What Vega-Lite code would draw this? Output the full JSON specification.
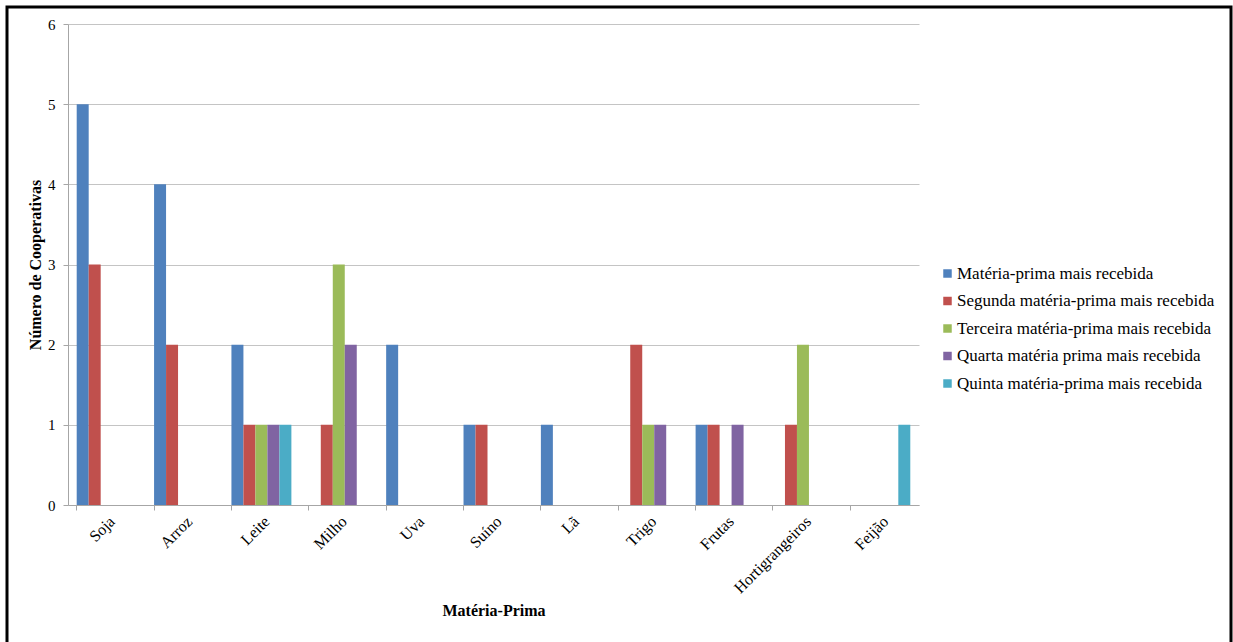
{
  "$schema": "https://vega.github.io/schema/vega-lite/v6.json",
  "width": 1224,
  "height": 640,
  "autosize": {"type": "none"},
  "padding": {"left": 7, "top": 7, "right": 2, "bottom": 0},
  "background": "white",
  "config": {
    "view": {"stroke": "#000000", "strokeWidth": 3},
    "font": "Times New Roman, Liberation Serif, serif"
  },
  "data": {
    "values": [
      {"materia": "Soja", "serie": "Matéria-prima mais recebida", "n": 5},
      {"materia": "Soja", "serie": "Segunda matéria-prima mais recebida", "n": 3},
      {"materia": "Arroz", "serie": "Matéria-prima mais recebida", "n": 4},
      {"materia": "Arroz", "serie": "Segunda matéria-prima mais recebida", "n": 2},
      {"materia": "Leite", "serie": "Matéria-prima mais recebida", "n": 2},
      {"materia": "Leite", "serie": "Segunda matéria-prima mais recebida", "n": 1},
      {"materia": "Leite", "serie": "Terceira matéria-prima mais recebida", "n": 1},
      {"materia": "Leite", "serie": "Quarta matéria prima mais recebida", "n": 1},
      {"materia": "Leite", "serie": "Quinta matéria-prima mais recebida", "n": 1},
      {"materia": "Milho", "serie": "Segunda matéria-prima mais recebida", "n": 1},
      {"materia": "Milho", "serie": "Terceira matéria-prima mais recebida", "n": 3},
      {"materia": "Milho", "serie": "Quarta matéria prima mais recebida", "n": 2},
      {"materia": "Uva", "serie": "Matéria-prima mais recebida", "n": 2},
      {"materia": "Suíno", "serie": "Matéria-prima mais recebida", "n": 1},
      {"materia": "Suíno", "serie": "Segunda matéria-prima mais recebida", "n": 1},
      {"materia": "Lã", "serie": "Matéria-prima mais recebida", "n": 1},
      {"materia": "Trigo", "serie": "Segunda matéria-prima mais recebida", "n": 2},
      {"materia": "Trigo", "serie": "Terceira matéria-prima mais recebida", "n": 1},
      {"materia": "Trigo", "serie": "Quarta matéria prima mais recebida", "n": 1},
      {"materia": "Frutas", "serie": "Matéria-prima mais recebida", "n": 1},
      {"materia": "Frutas", "serie": "Segunda matéria-prima mais recebida", "n": 1},
      {"materia": "Frutas", "serie": "Quarta matéria prima mais recebida", "n": 1},
      {"materia": "Hortigrangeiros", "serie": "Segunda matéria-prima mais recebida", "n": 1},
      {"materia": "Hortigrangeiros", "serie": "Terceira matéria-prima mais recebida", "n": 2},
      {"materia": "Feijão", "serie": "Quinta matéria-prima mais recebida", "n": 1}
    ]
  },
  "mark": {"type": "bar"},
  "encoding": {
    "x": {
      "field": "materia",
      "type": "nominal",
      "scale": {
        "domain": ["Soja", "Arroz", "Leite", "Milho", "Uva", "Suíno", "Lã", "Trigo", "Frutas", "Hortigrangeiros", "Feijão"],
        "range": [61, 912],
        "paddingInner": 0.225,
        "paddingOuter": 0.1125
      },
      "axis": {
        "orient": "bottom",
        "offset": -142,
        "bandPosition": 0,
        "grid": false,
        "labelAngle": -45,
        "labelFont": "Times New Roman, Liberation Serif, serif",
        "labelFontSize": 16,
        "labelColor": "#000000",
        "labelPadding": 3,
        "tickSize": 5,
        "tickColor": "#A6A6A6",
        "domainColor": "#A6A6A6",
        "title": "Matéria-Prima",
        "titleFont": "Times New Roman, Liberation Serif, serif",
        "titleFontSize": 16,
        "titleFontWeight": "bold",
        "titleColor": "#000000",
        "titlePadding": 7
      }
    },
    "xOffset": {
      "field": "serie",
      "type": "nominal",
      "scale": {
        "domain": ["Matéria-prima mais recebida", "Segunda matéria-prima mais recebida", "Terceira matéria-prima mais recebida", "Quarta matéria prima mais recebida", "Quinta matéria-prima mais recebida"],
        "paddingInner": 0,
        "paddingOuter": 0
      }
    },
    "y": {
      "field": "n",
      "type": "quantitative",
      "scale": {"domain": [0, 6], "range": [498, 17], "nice": false},
      "axis": {
        "orient": "left",
        "offset": -61,
        "values": [0, 1, 2, 3, 4, 5, 6],
        "grid": true,
        "gridColor": "#C4C4C4",
        "labelFont": "Times New Roman, Liberation Serif, serif",
        "labelFontSize": 15,
        "labelColor": "#000000",
        "labelPadding": 8,
        "tickSize": 5,
        "tickColor": "#A6A6A6",
        "domainColor": "#A6A6A6",
        "title": "Número de Cooperativas",
        "titleFont": "Times New Roman, Liberation Serif, serif",
        "titleFontSize": 16,
        "titleFontWeight": "bold",
        "titleColor": "#000000",
        "titlePadding": 4
      }
    },
    "color": {
      "field": "serie",
      "type": "nominal",
      "scale": {
        "domain": ["Matéria-prima mais recebida", "Segunda matéria-prima mais recebida", "Terceira matéria-prima mais recebida", "Quarta matéria prima mais recebida", "Quinta matéria-prima mais recebida"],
        "range": ["#4F81BD", "#C0504D", "#9BBB59", "#8064A2", "#4BACC6"]
      },
      "legend": {
        "title": null,
        "orient": "none",
        "legendX": 932,
        "legendY": 258,
        "padding": 0,
        "symbolType": "square",
        "symbolSize": 72,
        "symbolStrokeWidth": 0,
        "labelFont": "Times New Roman, Liberation Serif, serif",
        "labelFontSize": 17,
        "labelColor": "#000000",
        "labelOffset": 1,
        "rowPadding": 9.5,
        "labelLimit": 400
      }
    }
  }
}
